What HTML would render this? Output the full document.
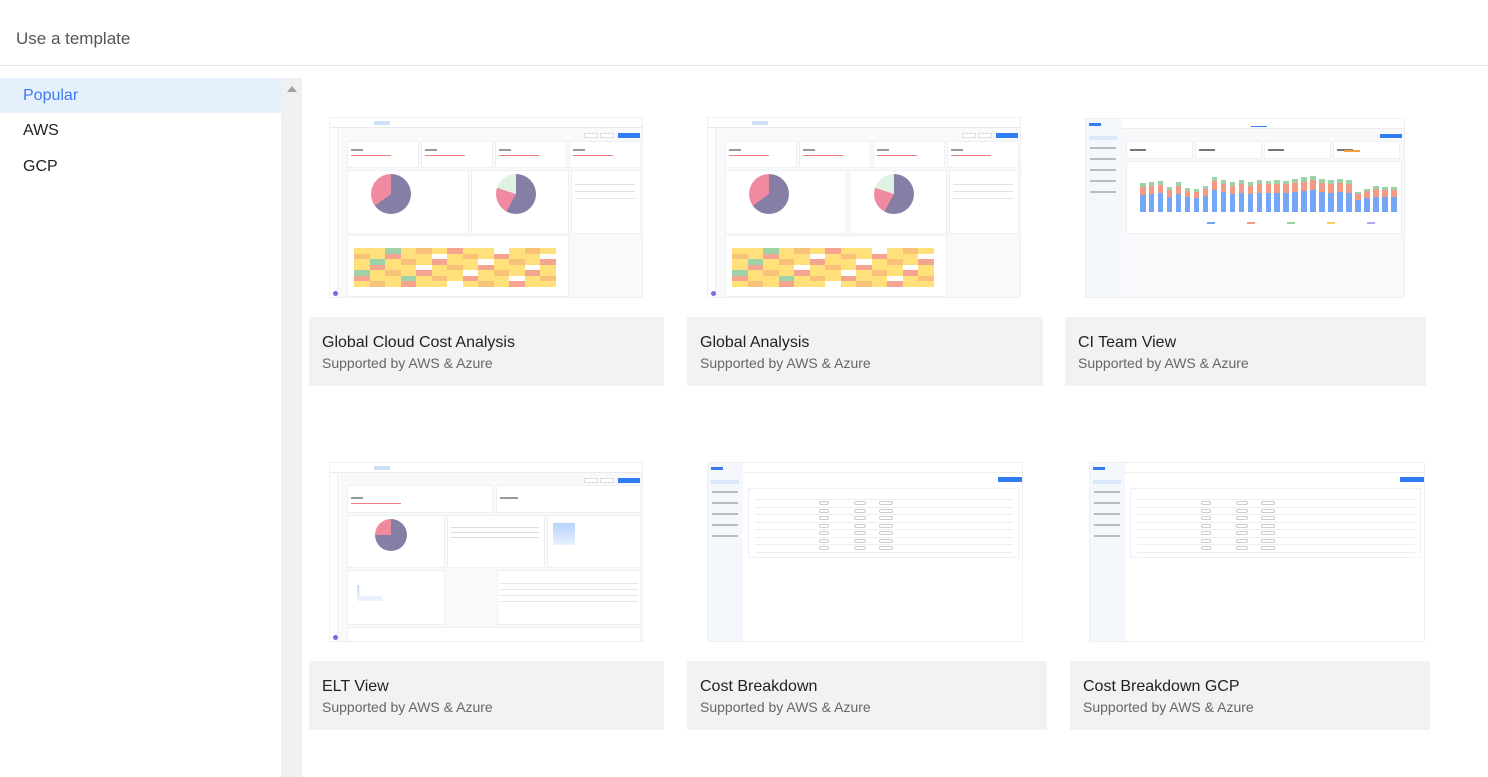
<!DOCTYPE html>
<html><head><meta charset="utf-8">
<style>
*{box-sizing:border-box;margin:0;padding:0}
body{width:1488px;height:777px;overflow:hidden;background:#fff;font-family:"Liberation Sans",sans-serif;position:relative}
.abs{position:absolute}
#hdr{left:0;top:0;width:1488px;height:66px;border-bottom:1px solid #e6e6e6}
#hdr span{position:absolute;left:16px;top:29px;font-size:17px;color:#555}
.nav{position:absolute;left:0;width:281px;height:35px;font-size:16px;color:#222;padding-left:23px;line-height:35px}
#scroll{left:281px;top:78px;width:21px;height:699px;background:#f0f0f0}
#scroll i{position:absolute;left:6px;top:8px;border-left:5px solid transparent;border-right:5px solid transparent;border-bottom:6px solid #a0a0a0}
.lab{position:absolute;background:#f2f2f2;height:69px}
.lab b{position:absolute;left:13px;top:17px;font-size:16px;font-weight:normal;color:#222}
.lab s{position:absolute;left:13px;top:38px;font-size:14px;text-decoration:none;color:#666}
.th{position:absolute;background:#f8f9fb;overflow:hidden;border:1px solid #eef0f3}
.th div{position:absolute}
</style></head><body>
<div id="hdr" class="abs"><span>Use a template</span></div>
<div class="nav" style="top:78px;background:#e6f0fd;color:#3a7bf0">Popular</div>
<div class="nav" style="top:113px">AWS</div>
<div class="nav" style="top:149px">GCP</div>
<div id="scroll" class="abs"><i></i></div>

<div class="lab" style="left:309px;top:317px;width:355px"><b>Global Cloud Cost Analysis</b><s>Supported by AWS &amp; Azure</s></div>
<div class="lab" style="left:687px;top:317px;width:356px"><b>Global Analysis</b><s>Supported by AWS &amp; Azure</s></div>
<div class="lab" style="left:1065px;top:317px;width:361px"><b>CI Team View</b><s>Supported by AWS &amp; Azure</s></div>
<div class="lab" style="left:309px;top:661px;width:355px"><b>ELT View</b><s>Supported by AWS &amp; Azure</s></div>
<div class="lab" style="left:687px;top:661px;width:360px"><b>Cost Breakdown</b><s>Supported by AWS &amp; Azure</s></div>
<div class="lab" style="left:1070px;top:661px;width:360px"><b>Cost Breakdown GCP</b><s>Supported by AWS &amp; Azure</s></div>

<script>
const ciBase=[48,50,52,42,50,42,40,44,60,55,50,54,50,54,53,54,53,56,58,60,55,54,55,54,33,40,43,42,42];
const ciMid=[22,22,24,20,22,16,15,20,25,24,22,24,22,24,24,25,24,25,26,28,25,24,26,24,17,18,20,20,20];
const ciTop=[10,10,10,8,10,8,8,8,12,10,10,10,10,10,10,10,10,11,12,12,11,10,10,10,6,7,8,8,8];
function box(p,x,y,w,h,st,name){const d=document.createElement('div');d.style.cssText=`left:${x}px;top:${y}px;width:${w}px;height:${h}px;${st||''}`;


p.appendChild(d);return d;}
function thumb(x,y,w,h,name){const t=document.createElement('div');t.className='th';t.style.cssText=`left:${x}px;top:${y}px;width:${w}px;height:${h}px`;


document.body.appendChild(t);return t;}
function chrome(t,w,h){box(t,0,0,w,10,'background:#fff;border-bottom:1px solid #e8eaee','tab-bar');box(t,0,10,8,h,'background:#fff;border-right:1px solid #eee','icon-rail');
box(t,44,3,16,4,'background:#cfe0fb','active-tab');box(t,w-26,15,22,5,'background:#2f7cf6','add-button');box(t,w-60,15,14,5,'border:1px solid #ddd;background:#fff','filter');box(t,w-44,15,14,5,'border:1px solid #ddd;background:#fff','filter');
box(t,3,h-8,5,5,'background:#7a6ae8;border-radius:50%','avatar');}
function pie(p,x,y,r,grad){box(p,x,y,2*r,2*r,`border-radius:50%;background:conic-gradient(${grad})`,'pie');}
function panel(p,x,y,w,h){return box(p,x,y,w,h,'background:#fff;border:1px solid #eef0f3','panel');}
function heat(p,x,y){const cols=['#ffe07a','#f5a58f','#9ed3a9','#f8c27a'];for(let r=0;r<7;r++)for(let c=0;c<13;c++){const k=(r*5+c*3)%7;const col=k<4?cols[0]:k==4?cols[1]:k==5?cols[3]:(c<4?cols[2]:'#fff');box(p,x+6+c*15.5,y+8+r*5.5,15.5,5.5,'background:'+col,'heat-cell');}}
function global(x,y,name){const w=314,h=181;const t=thumb(x,y,w,h,name);chrome(t,w,h);
for(let i=0;i<4;i++){const pn=panel(t,17+i*74,23,72,27);box(pn,3,7,12,2,'background:#999','kpi');box(pn,3,13,40,1,'background:#f08080','kpi-sub');}
panel(t,17,52,122,64);panel(t,141,52,98,64);panel(t,241,52,70,64);
pie(t,41,56,20,'#857fa6 0 65%,#f08aa0 65% 100%');pie(t,166,56,20,'#857fa6 0 58%,#f08aa0 58% 80%,#dff2e4 80%');
for(let i=0;i<3;i++)box(t,245,66+i*7,60,1,'background:#e2e2e2','list-row');
const pn=panel(t,17,117,222,62);heat(pn,0,4);}
global(329,117,'thumbnail-global-cloud-cost');global(707,117,'thumbnail-global-analysis');
// ELT
(function(){const w=314,h=180;const t=thumb(329,462,w,h,'thumbnail-elt-view');chrome(t,w,h);
panel(t,17,22,146,28);panel(t,166,22,145,28);box(t,21,34,12,2,'background:#999');box(t,170,34,18,2,'background:#999');box(t,21,40,50,1,'background:#f08080');
panel(t,17,52,98,53);panel(t,117,52,98,53);panel(t,217,52,94,53);pie(t,45,56,16,'#857fa6 0 75%,#f08aa0 75%');
for(let i=0;i<3;i++)box(t,121,64+i*5,88,1,'background:#ddd');
box(t,223,60,22,22,'background:linear-gradient(#b6d2fb,#e8f1fe)','area');
panel(t,17,107,98,55);panel(t,167,107,144,55);box(t,27,122,27,16,'background:linear-gradient(#c6dcfb,#eef5fe);clip-path:polygon(0 0,8% 0,10% 70%,90% 70%,100% 100%,0 100%)','area');
for(let i=0;i<4;i++)box(t,170,120+i*6,138,1,'background:#e6e6e6');panel(t,17,164,294,16);})();
// CI team view
(function(){const w=320,h=180;const t=thumb(1085,118,w,h,'thumbnail-ci-team-view');
box(t,0,0,36,h,'background:#f4f7fc','sidebar');box(t,3,4,12,3,'background:#3a7bf0','logo');box(t,3,17,28,4,'background:#dbe7fb');for(let i=0;i<5;i++)box(t,4,28+i*11,26,2,'background:#bbb');
box(t,36,0,w-36,10,'background:#fff;border-bottom:1px solid #eee','tabs');box(t,165,2,16,6,'border-bottom:1px solid #3a7bf0','active-tab');box(t,w-26,15,22,4,'background:#2f7cf6','add-button');
for(let i=0;i<4;i++){const pn=panel(t,40+i*69,22,67,18);box(pn,3,7,16,2,'background:#777');}box(t,258,31,16,2,'background:#f7a040','bar');
const pn=panel(t,40,42,276,73);const base=pn;const n=ciBase.length,bw=5.5,sc=0.36,y0=50;
ciBase.forEach((v,i)=>{const x=13+i*(260/n);const h1=v*sc,h2=ciMid[i]*sc,h3=ciTop[i]*sc;
box(base,x,y0-h1,bw,h1,'background:#74a7f7','bar-base');box(base,x,y0-h1-h2,bw,h2,'background:#f59a82','bar-mid');box(base,x,y0-h1-h2-h3,bw,h3,'background:#9bd2a7','bar-top');});
for(let i=0;i<5;i++)box(base,80+i*40,60,8,2,'background:'+['#74a7f7','#f59a82','#9bd2a7','#f7d060','#b7a6f0'][i],'legend-entry');})();
// Cost breakdown
function cb(x,y,w,name){const h=180;const t=thumb(x,y,w,h,name);t.style.background='#fff';
box(t,0,0,35,h,'background:#f4f7fc','sidebar');box(t,3,4,12,3,'background:#3a7bf0','logo');box(t,3,17,28,4,'background:#dbe7fb');for(let i=0;i<5;i++)box(t,4,28+i*11,26,2,'background:#bbb');
box(t,35,0,w-35,10,'border-bottom:1px solid #eee','tabs');box(t,w-26,14,25,5,'background:#2f7cf6','add-button');
const pn=panel(t,40,25,w-45,70);for(let r=0;r<8;r++)box(pn,6,10+r*7.5,w-58,1,'background:#eee','row');
for(let r=0;r<7;r++){box(pn,70,12+r*7.5,10,4,'border:1px solid #ccc;border-radius:3px','chip');box(pn,105,12+r*7.5,12,4,'border:1px solid #ccc;border-radius:3px','chip');box(pn,130,12+r*7.5,14,4,'border:1px solid #ccc;border-radius:3px','chip');}}
cb(707,462,316,'thumbnail-cost-breakdown');cb(1089,462,336,'thumbnail-cost-breakdown-gcp');
</script>
</body></html>
